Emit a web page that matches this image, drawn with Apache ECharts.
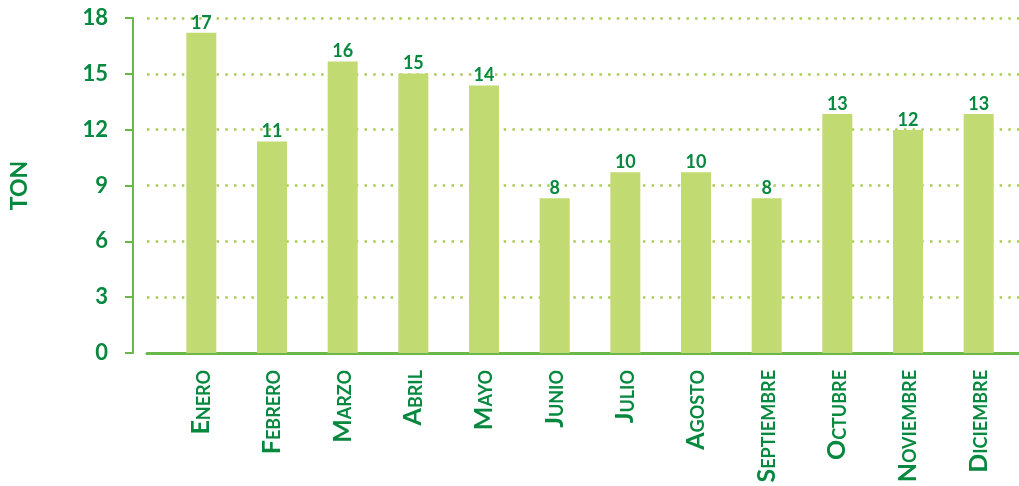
<!DOCTYPE html>
<html>
<head>
<meta charset="utf-8">
<script src="https://cdn.jsdelivr.net/npm/echarts@6/dist/echarts.min.js"></script>
<style>
html,body{margin:0;padding:0;background:#fff;}
#c{width:1019px;height:486px;}
</style>
</head>
<body>
<div id="c"></div>
<script>
const categories = ['Enero','Febrero','Marzo','Abril','Mayo','Junio','Julio','Agosto','Septiembre','Octubre','Noviembre','Diciembre'];
const values = [17.21, 11.37, 15.66, 15.02, 14.37, 8.32, 9.71, 9.71, 8.32, 12.84, 11.98, 12.84];
const yMin = 0, yMax = 18, yInterval = 3;
const yName = 'TON';

const GREEN = '#07883f';
const BAR = '#c2da72';
const AXIS = '#6ab84a';
const DOT = '#a8cc55';
const FONT = 'Lato';

const chart = echarts.init(document.getElementById('c'), null, {renderer: 'canvas'});
chart.setOption({
  animation: false,
  backgroundColor: '#ffffff',
  grid: [
    {left: 166, right: 5, top: 18, bottom: 133},
    {left: 144, right: 0, top: 18, bottom: 133}
  ],
  xAxis: [
    {
      type: 'category', gridIndex: 0, data: categories,
      axisLine: {show: false}, axisTick: {show: false},
      axisLabel: {
        rotate: 90, margin: 17, interval: 0,
        formatter: function (v) {
          const u = v.toUpperCase();
          return '{b|' + u.charAt(0) + '}{s|' + u.slice(1) + '}';
        },
        rich: {
          b: {fontFamily: FONT, fontWeight: 'bold', fontSize: 25, color: GREEN, lineHeight: 25, verticalAlign: 'bottom'},
          s: {fontFamily: FONT, fontWeight: 'bold', fontSize: 18, color: GREEN, lineHeight: 18, verticalAlign: 'bottom', padding: [0, 0, 1, 0]}
        }
      }
    },
    {
      type: 'value', gridIndex: 1, min: 0, max: 1,
      axisLine: {show: true, onZero: false, lineStyle: {color: AXIS, width: 3}},
      axisTick: {show: false}, axisLabel: {show: false}, splitLine: {show: false}
    }
  ],
  yAxis: [
    {
      type: 'value', gridIndex: 0, min: yMin, max: yMax, interval: yInterval,
      axisLine: {show: false}, axisTick: {show: false}, axisLabel: {show: false}, splitLine: {show: false}
    },
    {
      type: 'value', gridIndex: 1, min: yMin, max: yMax, interval: yInterval,
      offset: 14,
      name: yName, nameLocation: 'middle', nameGap: 102,
      nameTextStyle: {fontFamily: FONT, fontWeight: 'bold', fontSize: 23, color: GREEN},
      axisLine: {show: true, onZero: false, lineStyle: {color: AXIS, width: 2}},
      axisTick: {show: true, inside: false, length: 8, lineStyle: {color: AXIS, width: 2}},
      axisLabel: {margin: 25, fontFamily: FONT, fontWeight: 'bold', fontSize: 22, color: GREEN},
      splitLine: {show: true, lineStyle: {color: DOT, width: 2.5, type: [2.5, 6.2]}}
    }
  ],
  series: [
    {
      type: 'bar', name: yName, xAxisIndex: 0, yAxisIndex: 0,
      data: values, barWidth: 30,
      itemStyle: {color: BAR},
      label: {
        show: true, position: 'top', distance: 1,
        fontFamily: FONT, fontWeight: 'bold', fontSize: 18, color: GREEN,
        formatter: function (p) { return String(Math.round(p.value)); }
      }
    }
  ]
});
</script>
</body>
</html>
